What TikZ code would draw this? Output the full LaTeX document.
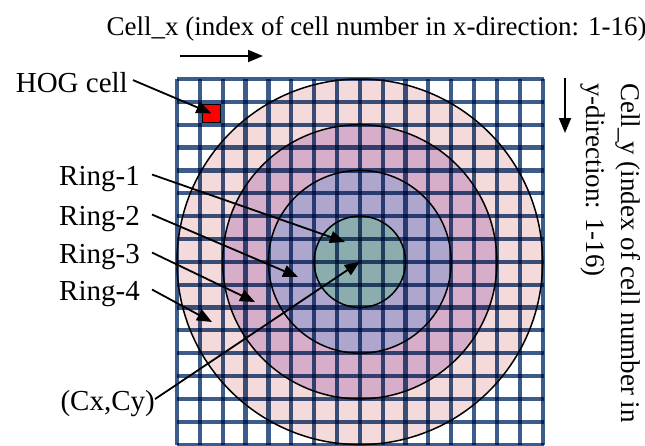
\documentclass[tikz,border=0pt]{standalone}
\usepackage{fontspec}
\setmainfont{Liberation Serif}
\usetikzlibrary{arrows.meta}

\definecolor{gridblue}{RGB}{60,92,140}
\definecolor{ringfour}{RGB}{244,218,218}
\definecolor{ringthree}{RGB}{214,174,202}
\definecolor{ringtwo}{RGB}{174,166,205}
\definecolor{ringone}{RGB}{139,173,173}

\tikzset{
  lbl/.style={font=\fontsize{29}{35}\selectfont, inner sep=0pt},
  axislbl/.style={font=\fontsize{27}{35}\selectfont, inner sep=0pt},
  pointer/.style={line width=1.8pt, -{Triangle[length=15pt,width=12pt]}},
  ringline/.style={draw=black, line width=1.5pt},
  gridline/.style={draw=gridblue, line width=4.2pt},
}

\begin{document}
\begin{tikzpicture}[x=1pt, y=-1pt]
    \useasboundingbox (0,0) rectangle (645,445);
    \clip (0,0) rectangle (645,445);
    % Centre of the window
    \coordinate (c) at (359.8,261.8);
    % Ring fills, outer first
    \fill[ringfour] (c) circle (182.8pt);
    \fill[ringthree] (c) circle (137.1pt);
    \fill[ringtwo] (c) circle (91.4pt);
    \fill[ringone] (c) circle (45.7pt);
    % 16 x 16 cell grid
    \begin{scope}[blend mode=multiply]
      \foreach \i in {0,...,16} {
        \draw[gridline] (177+\i*22.85,79) -- (177+\i*22.85,444.6);
        \draw[gridline] (177,79+\i*22.85) -- (543.6,79+\i*22.85);
      }
    \end{scope}
    % Ring borders
    \draw[ringline] (c) circle (182.8pt);
    \draw[ringline] (c) circle (137.1pt);
    \draw[ringline] (c) circle (91.4pt);
    \draw[ringline] (c) circle (45.7pt);
    % One HOG cell
    \node[draw=black, fill=red, line width=0.8pt, minimum size=18pt, inner sep=0pt] (hog) at (211.3,113.3) {};
    % Axis labels
    \node[axislbl, anchor=base] (xlbl) at (376.5,35) {Cell\_x (index of cell number in x-direction: 1-16)};
    \coordinate (xa) at (180,56);
    \coordinate (xb) at (263,56);
    \draw[pointer] (xa) -- (xb);
    \node[axislbl, rotate=-90, anchor=north west, align=left] (ylbl) at (641,83) {Cell\_y (index of cell number in\\y-direction: 1-16)};
    \coordinate (ya) at (565,78);
    \coordinate (yb) at (565,133);
    \draw[pointer] (ya) -- (yb);
    % Left labels
    \node[lbl, anchor=base east] (hoglbl) at (128,92) {HOG cell};
    \node[lbl, anchor=base east] (ring1lbl) at (140,185) {Ring-1};
    \node[lbl, anchor=base east] (ring2lbl) at (140,225) {Ring-2};
    \node[lbl, anchor=base east] (ring3lbl) at (140,263) {Ring-3};
    \node[lbl, anchor=base east] (ring4lbl) at (140,300) {Ring-4};
    \node[lbl, anchor=base east] (cxlbl) at (155,410) {(Cx,Cy)};
    % Arrow targets
    \coordinate (ring1tip) at (345,242);
    \coordinate (ring2tip) at (298,277);
    \coordinate (ring3tip) at (255,302);
    \coordinate (ring4tip) at (212,322);
    % Pointers
    \draw[pointer] ([shift={(5pt,2pt)}]hoglbl.east) -- (hog.center);
    \draw[pointer] ([shift={(12pt,4pt)}]ring1lbl.east) -- (ring1tip);
    \draw[pointer] ([shift={(12pt,4pt)}]ring2lbl.east) -- (ring2tip);
    \draw[pointer] ([shift={(12pt,4pt)}]ring3lbl.east) -- (ring3tip);
    \draw[pointer] ([shift={(12pt,4pt)}]ring4lbl.east) -- (ring4tip);
    \draw[pointer] ([shift={(0pt,4pt)}]cxlbl.east) -- (c);
\end{tikzpicture}
\end{document}
